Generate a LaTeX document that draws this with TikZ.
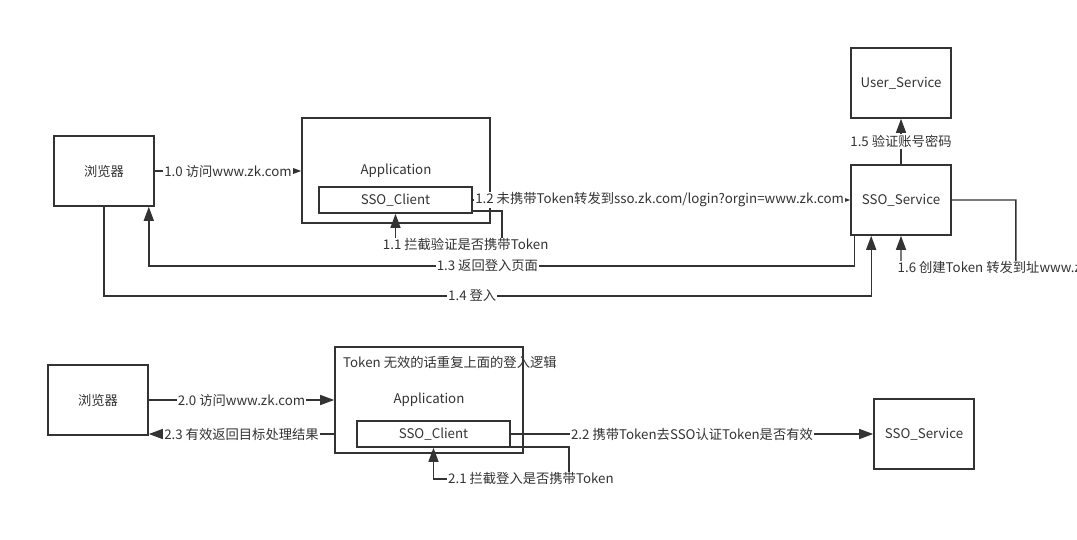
\documentclass[tikz,border=0pt]{standalone}
\usepackage{fontspec}
\setmainfont{Noto Sans CJK SC}
\usetikzlibrary{positioning,calc,arrows.meta}

\definecolor{edgegray}{HTML}{333333}
\newcommand\fsz{\fontsize{13.3}{15}\selectfont}

\begin{document}
\begin{tikzpicture}[x=1pt,y=-1pt,
    box/.style={draw=edgegray,line width=1.6pt,minimum width=100pt,minimum height=70pt,font=\fsz,text=edgegray},
    appbox/.style={box,minimum width=188pt,minimum height=105pt},
    clientbox/.style={box,minimum width=153pt,minimum height=26pt,inner sep=0pt},
    link/.style={draw=edgegray,line width=1.4pt,-{Triangle[length=14pt,width=10pt]}},
    lbl/.style={fill=white,inner sep=1pt,font=\fsz,text=edgegray}]
    \useasboundingbox (0,0) rectangle (1077,539);

    % first visit
    \node [box] (br1) at (104,171) {浏览器};
    \node [appbox] (app1) at (396,170.5) {Application};
    \node [clientbox] (sc1) at (395.5,200) {SSO\_Client};
    \node [box] (us) at (901,83) {User\_Service};
    \node [box] (ss1) at (901,200) {SSO\_Service};

    \draw [link] (br1.east) -- node [lbl] {1.0 访问www.zk.com} (br1.east -| app1.west);
    \draw [link] ($(sc1.south east)+(0,-3)$) -- ++(29,0) |- node [lbl,pos=0.67] {1.1 拦截验证是否携带Token} ($(sc1.south)+(0,31)$) -- (sc1.south);
    \draw [link] (sc1.east) -- node [lbl,pos=0.495] {1.2 未携带Token转发到sso.zk.com/login?orgin=www.zk.com} (ss1.west);
    \draw [link] ($(ss1.south west)+(4,0)$) |- node [lbl,pos=0.76] {1.3 返回登入页面} ($(br1.south east)+(-6,59)$) -- ($(br1.south east)+(-6,0)$);
    \draw [link] (br1.south) |- node [lbl,pos=0.74] {1.4 登入} ($(ss1.south west)+(21,60)$) -- ($(ss1.south west)+(21,0)$);
    \draw [link] (ss1.north) -- node [lbl] {1.5 验证账号密码} (us.south);
    \draw [link] (ss1.east) -- ++(64,0) -- ++(0,67) -- node [lbl,anchor=west,pos=1,xshift=-5pt] {1.6 创建Token 转发到址www.zk.com} ($(ss1.south)+(0,32)$) -- (ss1.south);

    % second visit
    \node [box] (br2) at (98,400) {浏览器};
    \node [appbox,minimum height=106pt] (app2) at (429,400) {Application};
    \node [anchor=west,font=\fsz,text=edgegray,inner sep=0pt] (note) at (343,362) {Token 无效的话重复上面的登入逻辑};
    \node [clientbox] (sc2) at (433.5,434) {SSO\_Client};
    \node [box] (ss2) at (924,434) {SSO\_Service};

    \draw [link] (br2.east) -- node [lbl] {2.0 访问www.zk.com} (br2.east -| app2.west);
    \draw [link] ($(sc2.south east)+(0,-1)$) -- ++(58,0) |- node [lbl,pos=0.64] {2.1 拦截登入是否携带Token} ($(sc2.south)+(0,31)$) -- (sc2.south);
    \draw [link] (sc2.east) -- node [lbl] {2.2 携带Token去SSO认证Token是否有效} (ss2.west);
    \draw [link] (app2.west |- sc2) -- node [lbl] {2.3 有效返回目标处理结果} (br2.east |- sc2);
\end{tikzpicture}
\end{document}
